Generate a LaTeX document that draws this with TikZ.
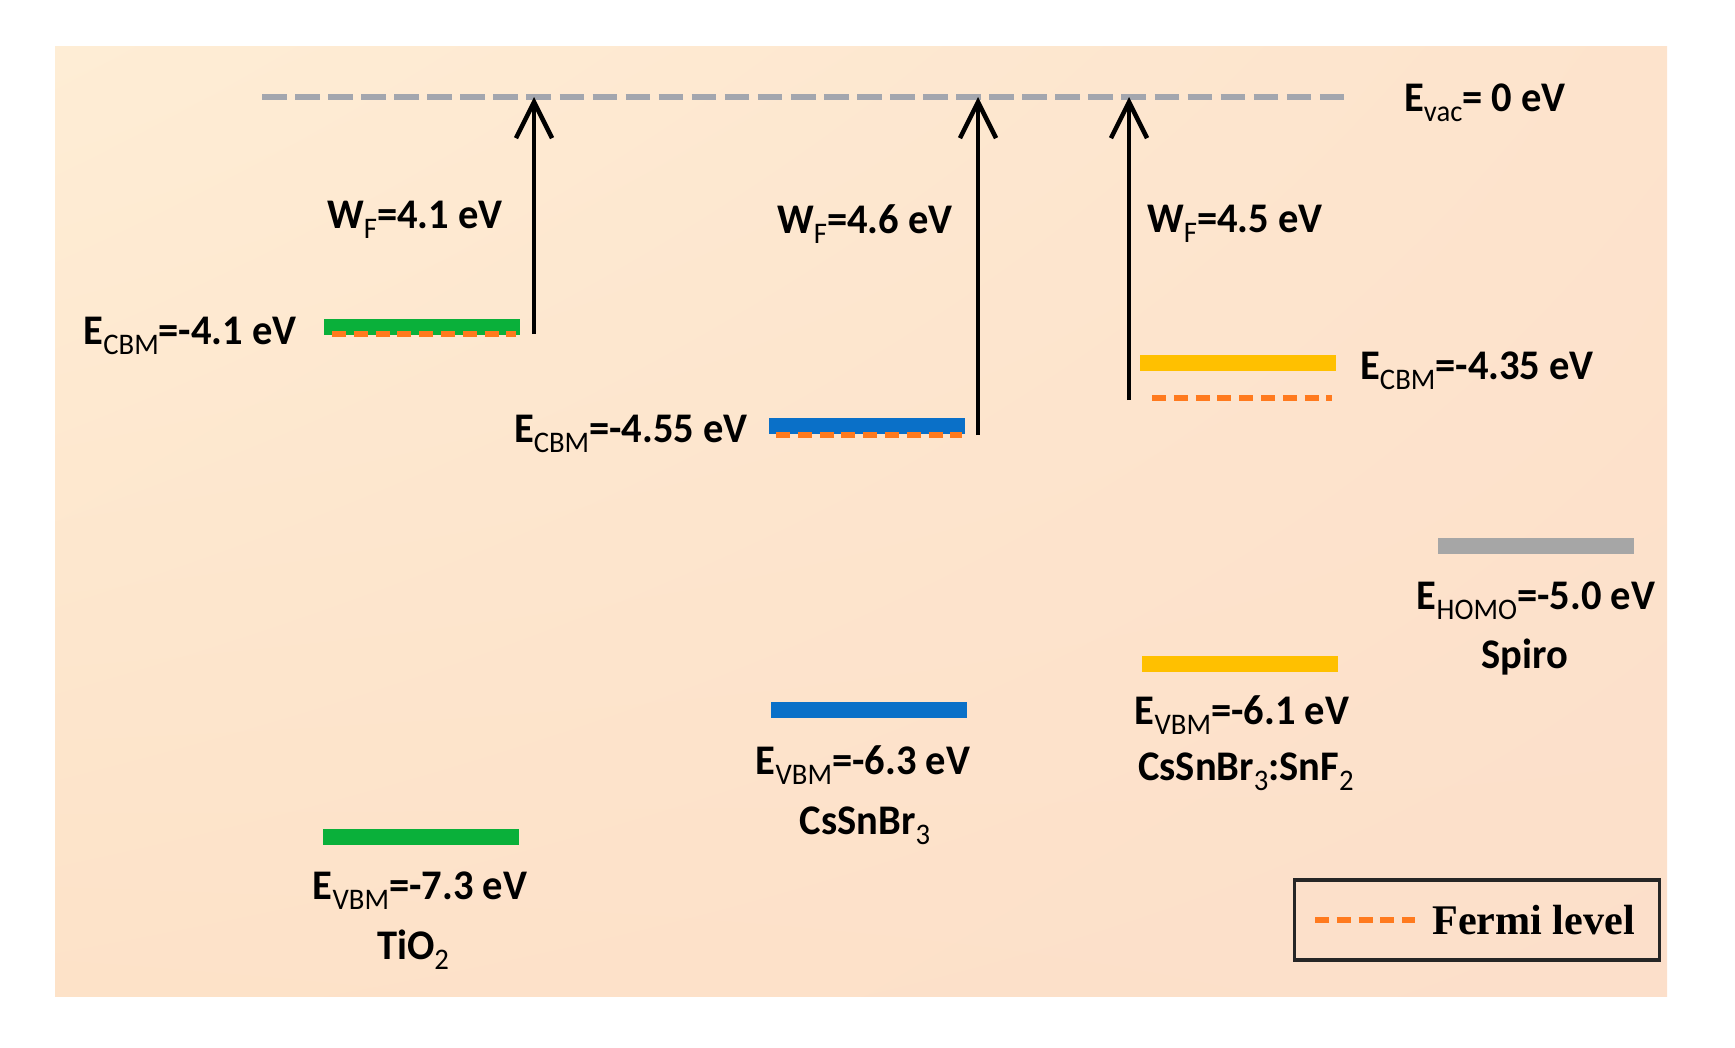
\documentclass[tikz,border=0pt]{standalone}
\usepackage{fontspec}
\setmainfont[FakeStretch=0.96]{Carlito}
\newfontfamily\legfont{Liberation Serif}
\usepackage{tikz}
\usetikzlibrary{calc}
\usetikzlibrary{arrows.meta}
\usetikzlibrary{positioning}
\usetikzlibrary{shadings}
\definecolor{bgtl}{HTML}{FEEDD5}
\definecolor{bgtr}{HTML}{FDE3CC}
\definecolor{bgbl}{HTML}{FDE2C8}
\definecolor{bgbr}{HTML}{FCDFCA}
\definecolor{tiogreen}{HTML}{0AB03A}
\definecolor{csblue}{HTML}{0A70C8}
\definecolor{snyellow}{HTML}{FFC000}
\definecolor{spgrey}{HTML}{A6A6A6}
\definecolor{vacgrey}{HTML}{A3A6AE}
\definecolor{fermi}{HTML}{FF7A1E}
\newcommand{\lsub}[1]{\raisebox{-0.5ex}{\fontsize{8.5}{9}\selectfont\mdseries #1}}
\tikzset{>=latex}
\tikzstyle{lvl} = [draw=none, minimum width=1.96cm, minimum height=0.16cm, inner sep=0]
\tikzstyle{lbl} = [draw=none, inner sep=1, font=\bfseries\fontsize{12}{14}\selectfont]
\tikzstyle{fl} = [-, draw=fermi, line width=1.6pt, dash pattern=on 4pt off 2.2pt]
\tikzstyle{wf} = [-{Straight Barb[length=3.6mm, width=3.6mm, line width=1.3pt]}, line width=1.3pt]

\begin{document}
\begin{tikzpicture}[x=0.01cm, y=-0.01cm]
\useasboundingbox (0, 0) rectangle (1735, 1048);
\shade [upper left=bgtl, upper right=bgtr, lower left=bgbl, lower right=bgbr] (55, 46) rectangle (1667, 996);

% vacuum level
\coordinate (vacL) at (262, 97);
\coordinate (vacR) at (1352, 97);
\draw [draw = vacgrey, line width = 1.6pt, dash pattern = on 7pt off 2.4pt] (vacL) to (vacR);
\node [lbl, anchor = west] (vac) at (1400, 103) {E\lsub{vac}= 0 eV};

% levels
\node [lvl, fill = tiogreen] (tioC) at (422, 327) {};
\node [lvl, fill = tiogreen] (tioV) at (421, 837) {};
\node [lvl, fill = csblue] (csC) at (867, 426) {};
\node [lvl, fill = csblue] (csV) at (869, 710) {};
\node [lvl, fill = snyellow] (snC) at (1238, 363) {};
\node [lvl, fill = snyellow] (snV) at (1240, 664) {};
\node [lvl, fill = spgrey] (spH) at (1536, 546) {};

% fermi levels
\coordinate (tioFL) at (332, 334);
\coordinate (tioFR) at (516, 334);
\coordinate (csFL) at (776, 435);
\coordinate (csFR) at (962, 435);
\coordinate (snFL) at (1152, 398);
\coordinate (snFR) at (1332, 398);
\draw [fl] (tioFL) to (tioFR);
\draw [fl] (csFL) to (csFR);
\draw [fl] (snFL) to (snFR);

% work functions
\coordinate (tioW) at (534, 334);
\coordinate (csW) at (978, 435);
\coordinate (snW) at (1129, 400);
\draw [wf] (tioW) to (tioW |- vacL);
\draw [wf] (csW) to (csW |- vacL);
\draw [wf] (snW) to (snW |- vacL);
\node [lbl] (tioWF) at (415, 220) {W\lsub{F}=4.1 eV};
\node [lbl] (csWF) at (865, 224) {W\lsub{F}=4.6 eV};
\node [lbl] (snWF) at (1235, 224) {W\lsub{F}=4.5 eV};

% labels
\node [lbl, anchor = east] (tioCl) at (301, 336) {E\lsub{CBM}=-4.1 eV};
\node [lbl, anchor = east] (csCl) at (752, 434) {E\lsub{CBM}=-4.55 eV};
\node [lbl, anchor = west] (snCl) at (1356, 371) {E\lsub{CBM}=-4.35 eV};
\node [lbl] (tioVl) at (420, 891) {E\lsub{VBM}=-7.3 eV};
\node [lbl] (csVl) at (863, 765) {E\lsub{VBM}=-6.3 eV};
\node [lbl] (snVl) at (1242, 715) {E\lsub{VBM}=-6.1 eV};
\node [lbl] (spHl) at (1536, 601) {E\lsub{HOMO}=-5.0 eV};
\node [lbl] (tio) at (413, 950) {TiO\lsub{2}};
\node [lbl] (cs) at (865, 826) {CsSnBr\lsub{3}};
\node [lbl] (sn) at (1246, 772) {CsSnBr\lsub{3}:SnF\lsub{2}};
\node [lbl] (sp) at (1525, 657) {Spiro};

% legend
\node [draw = black!85, line width = 1pt, minimum width = 3.65cm, minimum height = 0.8cm, inner sep = 0] (leg) at (1477, 920) {};
\coordinate (legL) at (1315, 920);
\coordinate (legR) at (1415, 920);
\draw [fl] (legL) to (legR);
\node [draw = none, inner sep = 1, anchor = west, font = \legfont\bfseries\fontsize{12}{14}\selectfont] (legtx) at (1428, 920) {Fermi level};
\end{tikzpicture}
\end{document}
